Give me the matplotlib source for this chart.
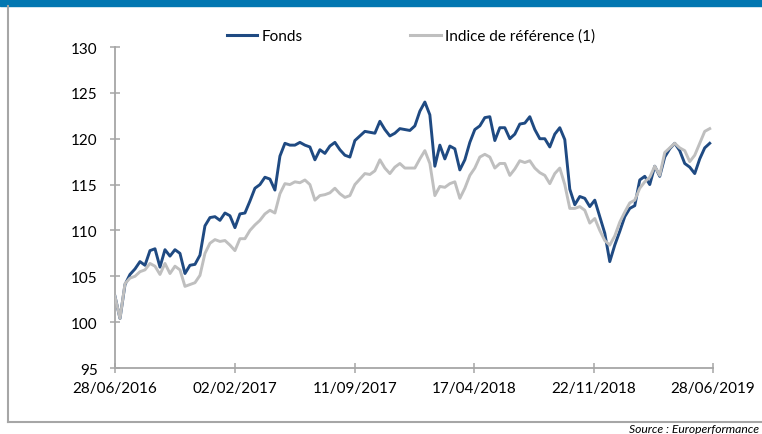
import matplotlib
matplotlib.use("Agg")
import matplotlib.pyplot as plt
from matplotlib.lines import Line2D
import pandas as pd

plt.rcParams['font.family'] = ['Lato', 'DejaVu Sans']

start_date = "2016-06-28"
end_date = "2019-06-22"

fonds = [102.8, 100.4, 104.1, 105.2, 105.8, 106.6, 106.2, 107.8, 108.0, 106.0,
         107.9, 107.2, 107.9, 107.5, 105.3, 106.2, 106.3, 107.3, 110.5, 111.4,
         111.5, 111.1, 111.9, 111.6, 110.3, 111.8, 111.9, 113.2, 114.6, 115.0,
         115.8, 115.6, 114.4, 118.1, 119.5, 119.3, 119.3, 119.6, 119.3, 119.1,
         117.7, 118.8, 118.4, 119.2, 119.6, 118.8, 118.2, 118.0, 119.8, 120.3,
         120.8, 120.7, 120.6, 121.9, 121.0, 120.3, 120.6, 121.1, 121.0, 120.9,
         121.4, 123.0, 124.0, 122.6, 117.0, 119.3, 117.8, 119.2, 118.9, 116.6,
         117.7, 119.6, 121.0, 121.4, 122.3, 122.4, 119.8, 121.2, 121.2, 120.0,
         120.5, 121.6, 121.7, 122.4, 121.0, 120.0, 120.0, 119.1, 120.5, 121.2,
         119.9, 114.5, 112.8, 113.7, 113.5, 112.6, 113.3, 111.5, 109.7, 106.6,
         108.4, 109.9, 111.5, 112.4, 112.7, 115.5, 115.9, 115.0, 117.0, 115.9,
         118.0, 118.9, 119.5, 118.7, 117.3, 116.9, 116.2, 117.8, 119.0, 119.5]

indice = [102.8, 100.4, 104.2, 104.8, 105.0, 105.5, 105.7, 106.4, 106.1, 105.2,
          106.4, 105.3, 106.1, 105.7, 103.9, 104.1, 104.3, 105.1, 107.5, 108.6,
          109.0, 108.8, 108.9, 108.4, 107.8, 109.1, 109.1, 110.0, 110.6, 111.1,
          111.8, 112.2, 111.9, 114.0, 115.1, 115.0, 115.3, 115.2, 115.5, 115.0,
          113.3, 113.8, 113.9, 114.1, 114.6, 114.0, 113.6, 113.8, 115.0, 115.6,
          116.2, 116.1, 116.5, 117.7, 116.8, 116.2, 116.9, 117.3, 116.8, 116.8,
          116.8, 117.8, 118.7, 117.3, 113.8, 114.8, 114.7, 115.1, 115.3, 113.5,
          114.6, 116.0, 116.8, 118.0, 118.3, 118.0, 116.8, 117.3, 117.3, 116.0,
          116.7, 117.6, 117.4, 117.6, 116.8, 116.3, 116.0, 115.1, 116.2, 116.8,
          115.0, 112.4, 112.4, 112.6, 112.2, 110.8, 111.3, 110.0, 108.9, 108.4,
          109.4, 110.9, 112.0, 113.0, 113.3, 114.6, 115.3, 115.8, 117.0, 116.0,
          118.5, 119.0, 119.5, 119.0, 118.7, 117.5, 118.2, 119.5, 120.8, 121.1]

tick_dates = ["2016-06-28", "2017-02-02", "2017-09-11", "2018-04-17", "2018-11-22", "2019-06-28"]
tick_labels = ["28/06/2016", "02/02/2017", "11/09/2017", "17/04/2018", "22/11/2018", "28/06/2019"]
y_ticks = [95, 100, 105, 110, 115, 120, 125, 130]

series_names = ["Fonds", "Indice de référence (1)"]
blue = "#1F4A82"
grey = "#BFBFBF"
axis_col = "#A6A6A6"

dates = pd.date_range(start_date, end_date, periods=len(fonds))

fig = plt.figure(figsize=(7.62, 4.35), dpi=100)
ax = fig.add_axes([115/762, 1-369/435, (713-115)/762, (369-48)/435])

ax.plot(dates, fonds, color=blue, lw=2.1, solid_joinstyle='round', zorder=2)
ax.plot(dates, indice, color=grey, lw=2.1, solid_joinstyle='round', zorder=3)

ax.set_xlim(pd.Timestamp(tick_dates[0]), pd.Timestamp(tick_dates[-1]))
ax.set_ylim(95, 130)
ax.set_yticks(y_ticks)
ax.set_xticks([pd.Timestamp(d) for d in tick_dates])
ax.set_xticklabels(tick_labels)

for s in ['top', 'right']:
    ax.spines[s].set_visible(False)
for s in ['left', 'bottom']:
    ax.spines[s].set_color(axis_col)
    ax.spines[s].set_linewidth(1.3)
ax.tick_params(axis='both', direction='inout', length=7, width=1.1, color=axis_col,
               labelsize=11, labelcolor='black')
ax.tick_params(axis='y', pad=9)
ax.tick_params(axis='x', pad=6)

handles = [Line2D([0], [0], color=blue, lw=2.2), Line2D([0], [0], color=grey, lw=2.2)]
fig.legend(handles, series_names, loc='center', bbox_to_anchor=(411/762, 1-37/435),
           ncol=2, frameon=False, fontsize=11, handlelength=2.0, handletextpad=0.3,
           columnspacing=7.0)

# header bar and frame
fig.patches.append(plt.Rectangle((0, 1-7/435), 1, 7/435, transform=fig.transFigure,
                                 color="#0277B1", zorder=0))
fig.add_artist(Line2D([8/762, 8/762], [1-7/435, 1-423/435], transform=fig.transFigure,
                      color=axis_col, lw=1.5))
fig.add_artist(Line2D([8/762, 1.0], [1-423/435, 1-423/435], transform=fig.transFigure,
                      color=axis_col, lw=1.5))

fig.text(759/762, 1-430/435, "Source : Europerformance", fontsize=8.7, style='italic',
         ha='right', va='center', color='black')

fig.savefig("out.png", dpi=100)
